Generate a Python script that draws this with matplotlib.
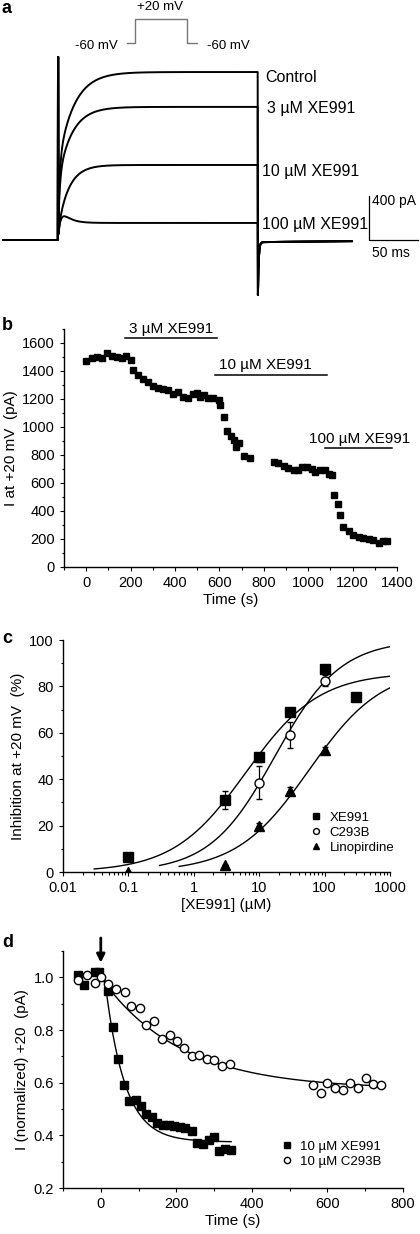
import numpy as np
import matplotlib.pyplot as plt
from matplotlib.transforms import Affine2D
from matplotlib.ticker import MultipleLocator, FixedLocator, NullFormatter

plt.rcParams['font.family'] = ['Liberation Sans', 'DejaVu Sans']
plt.rcParams['axes.linewidth'] = 1.0
plt.rcParams['xtick.direction'] = 'out'
plt.rcParams['ytick.direction'] = 'out'
plt.rcParams['xtick.major.size'] = 3
plt.rcParams['ytick.major.size'] = 3
plt.rcParams['xtick.minor.size'] = 1.8
plt.rcParams['ytick.minor.size'] = 1.8
plt.rcParams['xtick.labelsize'] = 10.5
plt.rcParams['ytick.labelsize'] = 10.5

W, H = 420, 1234

# ---------------- data ----------------
# a: current traces (kinetic parameters)
trace_labels = ['Control', '3 µM XE991', '10 µM XE991', '100 µM XE991']
trace_amp = [1527, 1210, 682, 155]          # steady state (pA)
trace_slow_frac = [0.55, 0.55, 0.85, 0.0]
trace_tau_fast = [1.5, 1.5, 1.5, 3.0]       # ms
trace_tau_slow = [16, 14, 11, 8]            # ms
trace_hump = [0, 0, 0, 200]                 # pA
trace_label_t = [211, 213, 208, 208]        # ms
trace_label_i = [1439, 1157, 582, 97]       # pA
pulse_len = 204        # ms
cap_peak = 1664        # pA
tail_peak = -500       # pA
tail_level = -20       # pA

# b: time course
b_time = [0, 25, 48, 70, 93, 115, 138, 160, 180, 201, 213, 235, 258, 280, 303,
          325, 348, 370, 393, 415, 438, 460, 480, 498, 513, 532, 550, 573, 596,
          604, 619, 634, 652, 668, 690, 676, 709, 736,
          844, 866, 889, 911, 934, 956, 971, 994, 1017, 1032, 1054, 1077, 1092,
          1107, 1114, 1132, 1144, 1159, 1182, 1204, 1227, 1249, 1272, 1294,
          1317, 1339, 1354]
b_curr = [1475, 1490, 1500, 1490, 1530, 1510, 1500, 1490, 1510, 1480, 1410,
          1370, 1340, 1320, 1290, 1280, 1270, 1265, 1235, 1250, 1215, 1210,
          1235, 1240, 1215, 1230, 1205, 1205, 1190,
          1155, 1075, 970, 935, 910, 885, 855, 790, 780,
          750, 745, 725, 705, 690, 690, 712, 717, 700, 680, 690, 690, 662,
          657, 515, 450, 372, 285, 255, 230, 215, 205, 200, 190, 175, 183, 187]
b_bar_labels = ['3 µM XE991', '10 µM XE991', '100 µM XE991']
b_bar_start = [176, 581, 1077]
b_bar_end = [589, 1084, 1377]
b_bar_y = [1639, 1375, 853]
b_text_x = [381, 809, 1230]
b_text_y = [1672, 1411, 888]

# c: concentration-response
xe_conc = [0.1, 3, 10, 30, 100, 300]
xe_inh = [6.5, 31, 49.5, 68.8, 87.5, 75.5]
xe_err = [0, 4, 2, 1.5, 1.5, 0]
c293_conc = [10, 30, 100]
c293_inh = [38.5, 59, 82.5]
c293_err = [7, 5.6, 2.5]
lino_conc = [0.1, 3, 10, 30, 100]
lino_inh = [0, 3, 20, 35, 52.5]
lino_err = [0, 0, 1.2, 1.5, 1.2]
fit_imax = [86, 100, 88]
fit_ic50 = [6.3, 17.5, 58]
fit_n = [0.78, 0.87, 0.78]
fit_from = [0.03, 0.3, 0.6]

# d: onset of block
d_xe_time = [-60, -45, -15, -5, 18, 33, 46, 62, 76, 92, 107, 120, 136, 149,
             164, 180, 195, 211, 224, 242, 255, 270, 286, 299, 314, 330, 345]
d_xe_val = [1.01, 0.97, 1.02, 1.02, 0.95, 0.81, 0.69, 0.59, 0.53, 0.535, 0.51,
            0.48, 0.47, 0.445, 0.44, 0.44, 0.437, 0.433, 0.427, 0.418, 0.37,
            0.368, 0.383, 0.395, 0.34, 0.35, 0.345]
d_c293_time = [-60, -37, -16, 0, 19, 40, 64, 81, 104, 120, 142, 163, 182, 202,
               220, 242, 261, 280, 301, 321, 341,
               561, 582, 600, 620, 640, 661, 681, 702, 721, 743]
d_c293_val = [0.99, 1.01, 0.98, 1.0, 0.975, 0.955, 0.945, 0.89, 0.885, 0.82,
              0.835, 0.765, 0.78, 0.76, 0.73, 0.70, 0.705, 0.69, 0.685, 0.665,
              0.67, 0.59, 0.56, 0.597, 0.578, 0.572, 0.60, 0.578, 0.616,
              0.594, 0.59]
d_fit_start = [10, 0]
d_fit_end = [345, 745]
d_fit_plateau = [0.375, 0.575]
d_fit_tau = [52, 210]

# ---------------- figure ----------------
fig = plt.figure(figsize=(W / 100, H / 100), dpi=100)
pix = Affine2D().scale(1 / W, -1 / H).translate(0, 1) + fig.transFigure


def box(l, t, r, b):
    return [l / W, 1 - b / H, (r - l) / W, (b - t) / H]


def style(ax):
    for s in ['top', 'right']:
        ax.spines[s].set_visible(False)
    ax.tick_params(which='both', width=0.8)


# ---- a ----
ax = fig.add_axes(box(0, 0, 420, 300))
ax.axis('off')
ms_px = 49 / 50
pa_px = 44 / 400
ax.set_xlim(-58 / ms_px, (W - 58) / ms_px)
ax.set_ylim(-60 / pa_px, 240 / pa_px)

t = np.arange(-56, 300, 0.25)
for A, f, tf, ts, B in zip(trace_amp, trace_slow_frac, trace_tau_fast,
                           trace_tau_slow, trace_hump):
    cur = np.zeros_like(t)
    on = (t >= 0) & (t < pulse_len)
    tt = t[on]
    cur[on] = (A * (1 - f * np.exp(-tt / ts) - (1 - f) * np.exp(-tt / tf))
               + B * np.exp(-tt / ts) * (1 - np.exp(-tt / tf)))
    i0 = np.argmax(t >= 0)
    cur[i0:i0 + 2] = cap_peak
    off = t >= pulse_len
    to = t[off] - pulse_len
    cur[off] = (tail_peak - tail_level) * np.exp(-to / 0.8) + tail_level * np.exp(-to / 150)
    ax.plot(t, cur, color='black', lw=1.4)

for lab, x, y in zip(trace_labels, trace_label_t, trace_label_i):
    ax.text(x, y, lab, fontsize=11.5, ha='left', va='baseline')

# scale bars
sb_x = (369 - 58) / ms_px
ax.plot([sb_x, sb_x, sb_x + 50], [400, 0, 0], color='black', lw=0.9)
ax.text(sb_x + 3, 318, '400 pA', fontsize=10, va='baseline')
ax.text(sb_x + 3, -157, '50 ms', fontsize=10, va='baseline')

# voltage protocol
fig.add_artist(plt.Line2D([127, 135, 135, 187, 187, 197], [43, 43, 19, 19, 43, 43],
                          transform=pix, color='#777777', lw=1.0))
fig.text(118, 49, '-60 mV', transform=pix, fontsize=9.5, ha='right', va='baseline')
fig.text(207, 49, '-60 mV', transform=pix, fontsize=9.5, ha='left', va='baseline')
fig.text(160, 10, '+20 mV', transform=pix, fontsize=9.5, ha='center', va='baseline')

# ---- b ----
ax = fig.add_axes(box(64, 329, 397, 567))
style(ax)
ax.plot(b_time, b_curr, 's', color='black', ms=4.5)
for s, e, y, tx, ty, lab in zip(b_bar_start, b_bar_end, b_bar_y, b_text_x,
                                b_text_y, b_bar_labels):
    ax.plot([s, e], [y, y], color='black', lw=1.1, clip_on=False)
    ax.text(tx, ty, lab, fontsize=11, ha='center', va='baseline', clip_on=False)
ax.set_xlim(-100, 1400)
ax.set_ylim(0, 1700)
ax.xaxis.set_major_locator(FixedLocator(range(0, 1401, 200)))
ax.xaxis.set_minor_locator(MultipleLocator(100))
ax.yaxis.set_major_locator(FixedLocator(range(0, 1601, 200)))
ax.yaxis.set_minor_locator(MultipleLocator(100))
ax.set_xlabel('Time (s)', fontsize=11, labelpad=2)
ax.set_ylabel('I at +20 mV  (pA)', fontsize=11, labelpad=3)

# ---- c ----
ax = fig.add_axes(box(63, 640, 390, 872))
style(ax)
ax.set_xscale('log')
for imax, ic50, n, x0 in zip(fit_imax, fit_ic50, fit_n, fit_from):
    xs = np.logspace(np.log10(x0), 3, 200)
    ax.plot(xs, imax / (1 + (ic50 / xs) ** n), color='black', lw=1.0)
ax.errorbar(xe_conc, xe_inh, yerr=xe_err, fmt='none', ecolor='black',
            elinewidth=0.9, capsize=2.5)
ax.errorbar(c293_conc, c293_inh, yerr=c293_err, fmt='none', ecolor='black',
            elinewidth=0.9, capsize=2.5)
ax.errorbar(lino_conc, lino_inh, yerr=lino_err, fmt='none', ecolor='black',
            elinewidth=0.9, capsize=2.5)
h1, = ax.plot(xe_conc, xe_inh, 's', color='black', ms=7, label='XE991')
h2, = ax.plot(c293_conc, c293_inh, 'o', mfc='white', mec='black', mew=1.0,
              ms=6.5, label='C293B')
h3, = ax.plot(lino_conc, lino_inh, '^', color='black', ms=7, label='Linopirdine')
ax.set_xlim(0.01, 1000)
ax.set_ylim(0, 100)
ax.set_xticks([0.01, 0.1, 1, 10, 100, 1000])
ax.set_xticklabels(['0.01', '0.1', '1', '10', '100', '1000'])
ax.xaxis.set_minor_formatter(NullFormatter())
ax.yaxis.set_major_locator(MultipleLocator(20))
ax.yaxis.set_minor_locator(MultipleLocator(10))
ax.set_xlabel('[XE991] (µM)', fontsize=11, labelpad=2)
ax.set_ylabel('Inhibition at +20 mV  (%)', fontsize=11, labelpad=3)
ax.legend(handles=[h1, h2, h3], loc='upper left', bbox_to_anchor=(0.755, 0.26),
          frameon=False, fontsize=9.5, markerscale=0.65, handlelength=1.0,
          handletextpad=0.5, borderpad=0, borderaxespad=0, labelspacing=0.2)

# ---- d ----
ax = fig.add_axes(box(63, 951, 403, 1188))
style(ax)
for t0, t1, p, tau in zip(d_fit_start, d_fit_end, d_fit_plateau, d_fit_tau):
    ts_ = np.linspace(t0, t1, 300)
    ax.plot(ts_, p + (1 - p) * np.exp(-(ts_ - t0) / tau), color='black', lw=1.0)
h1, = ax.plot(d_xe_time, d_xe_val, 's', color='black', ms=6, label='10 µM XE991')
h2, = ax.plot(d_c293_time, d_c293_val, 'o', mfc='white', mec='black', mew=1.0,
              ms=6, label='10 µM C293B')
ax.annotate('', xy=(0, 1.045), xytext=(0, 1.16), annotation_clip=False,
            arrowprops=dict(arrowstyle='-|>', color='black', lw=2.0,
                            mutation_scale=12))
ax.set_xlim(-100, 800)
ax.set_ylim(0.2, 1.1)
ax.xaxis.set_major_locator(FixedLocator(range(0, 801, 200)))
ax.xaxis.set_minor_locator(MultipleLocator(100))
ax.yaxis.set_major_locator(FixedLocator([0.2, 0.4, 0.6, 0.8, 1.0]))
ax.yaxis.set_minor_locator(MultipleLocator(0.1))
ax.yaxis.set_major_formatter(plt.FormatStrFormatter('%.1f'))
ax.set_xlabel('Time (s)', fontsize=11, labelpad=2)
ax.set_ylabel('I (normalized) +20  (pA)', fontsize=11, labelpad=3)
ax.legend(handles=[h1, h2], loc='upper left', bbox_to_anchor=(0.64, 0.2),
          frameon=False, fontsize=9.5, markerscale=0.75, handlelength=1.0,
          handletextpad=0.5, borderpad=0, borderaxespad=0, labelspacing=0.2)

# panel letters
for lab, y in zip(['a', 'b', 'c', 'd'], [13, 330, 643, 947]):
    fig.text(2, y, lab, transform=pix, fontsize=13, fontweight='bold',
             va='baseline')

fig.savefig('out.png', dpi=100)
